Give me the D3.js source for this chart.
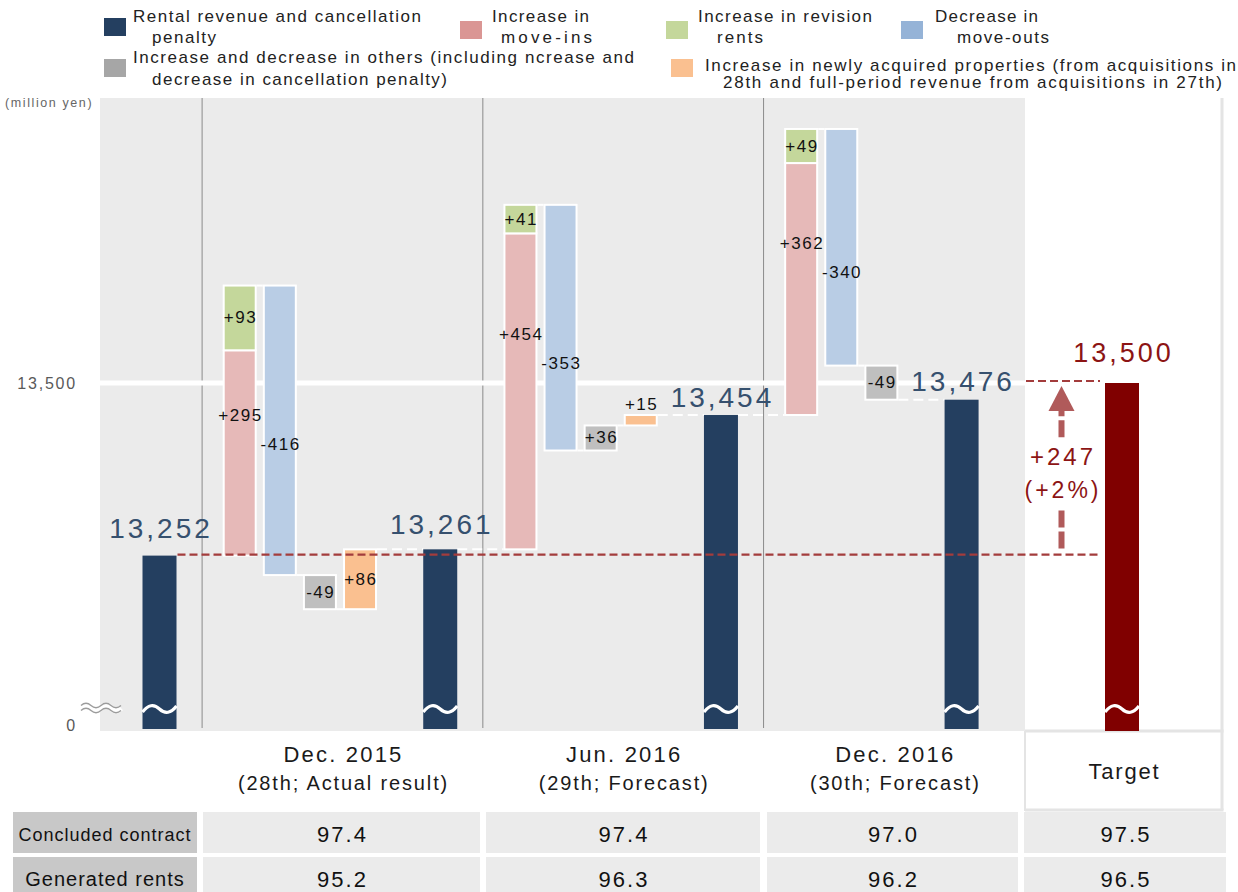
<!DOCTYPE html>
<html>
<head>
<meta charset="utf-8">
<script src="https://cdn.jsdelivr.net/npm/d3@7"></script>
<style>
  body { margin: 0; background: #fff; }
  svg { font-family: "Liberation Sans", Arial, sans-serif; display: block; }
</style>
</head>
<body>
<svg id="chart" width="1238" height="892"></svg>
<script>
// ---- data (million yen) ----
const periodNames = ["Dec. 2015", "Jun. 2016", "Dec. 2016"];
const periodNotes = ["(28th; Actual result)", "(29th; Forecast)", "(30th; Forecast)"];
const targetName = "Target";
const closingRevenue = [13252, 13261, 13454, 13476];   // rental revenue and cancellation penalty
const targetRevenue = 13500;
const moveIns = [295, 454, 362];
const revisionRents = [93, 41, 49];
const moveOuts = [-416, -353, -340];
const others = [-49, 36, -49];
const newProperties = [86, 15, null];
const targetGainText = ["+247", "(+2%)"];
const yTickValues = [13000, 13500];
const yTickLabels = ["0", "13,500"];
const unitLabel = "(million yen)";
const rowNames = ["Concluded contract", "Generated rents"];
const concludedContract = ["97.4", "97.4", "97.0", "97.5"];
const generatedRents = ["95.2", "96.3", "96.2", "96.5"];
const legendLabels = [
  ["Rental revenue and cancellation", "penalty"],
  ["Increase in", "move-ins"],
  ["Increase in revision", "rents"],
  ["Decrease in", "move-outs"],
  ["Increase and decrease in others (including ncrease and", "decrease in cancellation penalty)"],
  ["Increase in newly acquired properties (from acquisitions in", "28th and full-period revenue from acquisitions in 27th)"]
];

// ---- styling ----
const C = {
  total: "#243f60", moveIns: "#e6b9b8", revision: "#c4d79b", moveOuts: "#b9cde5",
  others: "#bfbfbf", newProps: "#fac090", target: "#800000",
  bg: "#ebebeb", sep: "#8a8a8a", red: "#a33c3c", redText: "#8c1414", arrow: "#b05a5a",
  totalText: "#36506e"
};
const legendColors = ["#243f60", "#da9694", "#c4d79b", "#95b3d7", "#a6a6a6", "#fac090"];
// legend placement: square x,y ; line starts, widths, baselines
const legendLayout = [
  { sx: 104, sy: 18, x1: 133, w1: 288, b1: 22, x2: 152, w2: 64,  b2: 43 },
  { sx: 460, sy: 21, x1: 492, w1: 97,  b1: 22, x2: 501, w2: 91,  b2: 43 },
  { sx: 666, sy: 21, x1: 698, w1: 174, b1: 22, x2: 717, w2: 46,  b2: 43 },
  { sx: 901, sy: 21, x1: 935, w1: 103, b1: 22, x2: 957, w2: 92,  b2: 43 },
  { sx: 104, sy: 59, x1: 133, w1: 501, b1: 63, x2: 152, w2: 295, b2: 85 },
  { sx: 671, sy: 59, x1: 705, w1: 531, b1: 71, x2: 723, w2: 499, b2: 88 }
];

const svg = d3.select("#chart");
const plot = { left: 100, top: 98, right: 1025, panelRight: 1222, bottom: 731 };

// ---- scales ----
const y = d3.scaleLinear().domain([13000, 13500]).range([731, 383]);
const x = d3.scaleLinear().domain([0, 24]).range([159.5, 1122]);   // column slots
const barW = 34;

// ---- build waterfall columns ----
const columns = [];   // {slot, from, to, kind, value}
let slot = 0;
periodNames.forEach((_, p) => {
  columns.push({ slot, from: closingRevenue[p], to: closingRevenue[p], kind: "total", value: closingRevenue[p] });
  slot += 2;
  let level = closingRevenue[p];
  const pinkFrom = level;
  level += moveIns[p];
  columns.push({ slot, from: pinkFrom, to: level, kind: "moveIns", value: moveIns[p] });
  const greenFrom = level;
  level += revisionRents[p];
  columns.push({ slot, from: greenFrom, to: level, kind: "revision", value: revisionRents[p], stacked: true });
  slot += 1;
  columns.push({ slot, from: level, to: level + moveOuts[p], kind: "moveOuts", value: moveOuts[p] });
  level += moveOuts[p]; slot += 1;
  columns.push({ slot, from: level, to: level + others[p], kind: "others", value: others[p] });
  level += others[p]; slot += 1;
  if (newProperties[p] != null) {
    columns.push({ slot, from: level, to: level + newProperties[p], kind: "newProps", value: newProperties[p] });
    level += newProperties[p]; slot += 1;
  }
  slot += 1;
});
columns.push({ slot, from: closingRevenue[3], to: closingRevenue[3], kind: "total", value: closingRevenue[3] });
const targetSlot = slot + 4;
const sepSlots = [1, 8, 15];

// ---- background ----
svg.append("rect").attr("x", plot.left).attr("y", plot.top)
  .attr("width", plot.right - plot.left).attr("height", plot.bottom - plot.top).attr("fill", C.bg);

// period separators
svg.selectAll("line.sep").data(sepSlots).join("line")
  .attr("x1", d => x(d) + 2.5).attr("x2", d => x(d) + 2.5)
  .attr("y1", plot.top).attr("y2", plot.bottom - 3)
  .attr("stroke", C.sep).attr("stroke-width", 1);

// 13,500 gridline
svg.append("line").attr("x1", plot.left).attr("x2", plot.right)
  .attr("y1", y(13500)).attr("y2", y(13500)).attr("stroke", "#fff").attr("stroke-width", 5);

// target panel frame
svg.append("line").attr("x1", plot.panelRight).attr("x2", plot.panelRight)
  .attr("y1", plot.top).attr("y2", 810).attr("stroke", "#e4e4e4").attr("stroke-width", 3);
svg.append("line").attr("x1", plot.right).attr("x2", plot.panelRight + 1.5)
  .attr("y1", plot.bottom).attr("y2", plot.bottom).attr("stroke", "#e4e4e4").attr("stroke-width", 3);
svg.append("line").attr("x1", plot.right).attr("x2", plot.panelRight + 1.5)
  .attr("y1", 810).attr("y2", 810).attr("stroke", "#e4e4e4").attr("stroke-width", 3);
svg.append("line").attr("x1", plot.right).attr("x2", plot.right)
  .attr("y1", plot.bottom).attr("y2", 811).attr("stroke", "#e4e4e4").attr("stroke-width", 2);

// ---- y axis ----
const yAxis = d3.axisLeft(y).tickValues(yTickValues)
  .tickFormat((d, i) => yTickLabels[i]).tickSize(0).tickPadding(0);
const axisG = svg.append("g").attr("transform", "translate(77,0)").call(yAxis);
axisG.select(".domain").remove();
axisG.selectAll("text").attr("font-size", 16).attr("fill", "#595959")
  .attr("letter-spacing", 1.8).attr("font-family", "Liberation Sans, Arial, sans-serif");
axisG.selectAll(".tick").filter(d => d === 13000).select("text").attr("dy", "-0.05em");

svg.append("text").attr("x", 5).attr("y", 107).attr("font-size", 12.5).attr("fill", "#666")
  .attr("letter-spacing", 1.6).text(unitLabel);

// axis break symbol
const breakWave = (x0, yc) => `M${x0},${yc} q5,-4.5 10,0 t10,0 t10,0 t10,0`;
svg.append("path").attr("d", breakWave(81, 708)).attr("fill", "none").attr("stroke", "#fff").attr("stroke-width", 6);
[-2.6, 2.6].forEach(o => {
  svg.append("path").attr("d", breakWave(81, 708 + o)).attr("fill", "none")
    .attr("stroke", "#9c9c9c").attr("stroke-width", 1.4);
});

// ---- white step connectors ----
const steps = [];
{
  // one entry per slot, with entry and exit levels
  const bySlot = d3.group(columns, c => c.slot);
  const slots = Array.from(bySlot.keys()).sort((a, b) => a - b);
  const exits = slots.map(s => {
    const cs = bySlot.get(s);
    return { slot: s, enter: cs[0].from, exit: cs[cs.length - 1].to };
  });
  for (let i = 2; i < exits.length; i++) {   // the first step sits on the dashed reference line
    steps.push({ x1: x(exits[i - 1].slot) + barW / 2, x2: x(exits[i].slot) - barW / 2, level: exits[i - 1].exit });
  }
}
svg.selectAll("line.step").data(steps).join("line")
  .attr("x1", d => d.x1).attr("x2", d => d.x2)
  .attr("y1", d => y(d.level)).attr("y2", d => y(d.level))
  .attr("stroke", "#fff").attr("stroke-width", 2).attr("stroke-dasharray", "10,5");

// ---- bars ----
const totals = columns.filter(c => c.kind === "total");
svg.selectAll("rect.total").data(totals).join("rect")
  .attr("x", d => x(d.slot) - barW / 2).attr("width", barW)
  .attr("y", d => y(d.value)).attr("height", d => y(13000) - 2 - y(d.value))
  .attr("fill", C.total);

const deltas = columns.filter(c => c.kind !== "total");
svg.selectAll("rect.delta").data(deltas).join("rect")
  .attr("x", d => x(d.slot) - (barW - 2) / 2).attr("width", barW - 2)
  .attr("y", d => y(Math.max(d.from, d.to))).attr("height", d => Math.abs(y(d.from) - y(d.to)))
  .attr("fill", d => C[d.kind]).attr("stroke", "#fff").attr("stroke-width", 2);

// target bar
svg.append("rect").attr("x", x(targetSlot) - barW / 2).attr("width", barW)
  .attr("y", y(targetRevenue)).attr("height", y(13000) - y(targetRevenue)).attr("fill", C.target);

// break waves on full-height bars
const barWave = (cx, yc) => {
  const x0 = cx - barW / 2, w = barW;
  return `M${x0},${yc + 3} Q${x0 + w * 0.25},${yc - 8} ${x0 + w * 0.5},${yc} T${x0 + w},${yc - 3}`;
};
[...totals.map(d => x(d.slot)), x(targetSlot)].forEach(cx => {
  svg.append("path").attr("d", barWave(cx, 709)).attr("fill", "none")
    .attr("stroke", "#fff").attr("stroke-width", 3.2);
});

// ---- reference lines and gain arrow ----
const arrowX = 1061.5;
svg.append("line").attr("x1", x(0) + barW / 2 + 1).attr("x2", 1100)
  .attr("y1", y(closingRevenue[0]) - 1).attr("y2", y(closingRevenue[0]) - 1)
  .attr("stroke", C.red).attr("stroke-width", 2.2).attr("stroke-dasharray", "8,4");
svg.append("line").attr("x1", plot.right + 1).attr("x2", 1100)
  .attr("y1", y(targetRevenue) - 2).attr("y2", y(targetRevenue) - 2)
  .attr("stroke", C.red).attr("stroke-width", 2.2).attr("stroke-dasharray", "8,4");

const mid = (y(closingRevenue[0]) + y(targetRevenue)) / 2;
svg.append("line").attr("x1", arrowX).attr("x2", arrowX)
  .attr("y1", y(closingRevenue[0]) - 7).attr("y2", mid + 38)
  .attr("stroke", C.arrow).attr("stroke-width", 6).attr("stroke-dasharray", "17,4");
svg.append("line").attr("x1", arrowX).attr("x2", arrowX)
  .attr("y1", mid - 32).attr("y2", y(targetRevenue) + 26)
  .attr("stroke", C.arrow).attr("stroke-width", 6).attr("stroke-dasharray", "17,4");
svg.append("path")
  .attr("d", `M${arrowX},${y(targetRevenue) + 3} L${arrowX + 13},${y(targetRevenue) + 28} L${arrowX - 13},${y(targetRevenue) + 28} Z`)
  .attr("fill", C.arrow);
svg.append("text").attr("x", arrowX + 1.5).attr("y", mid - 4).attr("text-anchor", "middle")
  .attr("font-size", 24).attr("letter-spacing", 3).attr("fill", C.redText).text(targetGainText[0]);
svg.append("text").attr("x", arrowX + 1.5).attr("y", mid + 29).attr("text-anchor", "middle")
  .attr("font-size", 23).attr("letter-spacing", 3).attr("fill", C.redText).text(targetGainText[1]);

// ---- value labels ----
const fmt = d3.format(",");
const totalLabelGap = [18, 15, 8, 9];
svg.selectAll("text.total").data(totals).join("text")
  .attr("x", d => x(d.slot) + 1.5).attr("y", (d, i) => y(d.value) - totalLabelGap[i])
  .attr("text-anchor", "middle").attr("font-size", 28).attr("letter-spacing", 3)
  .attr("fill", C.totalText).text(d => fmt(d.value));
svg.append("text").attr("x", x(targetSlot) + 1.5).attr("y", y(targetRevenue) - 21)
  .attr("text-anchor", "middle").attr("font-size", 27).attr("letter-spacing", 3)
  .attr("fill", C.redText).text(fmt(targetRevenue));

const signed = v => (v > 0 ? "+" : "") + v;
const labelY = d => {
  const top = y(Math.max(d.from, d.to)), bot = y(Math.min(d.from, d.to)), h = bot - top;
  if (d.kind === "moveIns") return top + 0.32 * h;
  if (d.kind === "moveOuts") {
    const pink = columns.find(c => c.kind === "moveIns" && c.slot === d.slot - 1);
    const pTop = y(Math.max(pink.from, pink.to)), pH = Math.abs(y(pink.from) - y(pink.to));
    return pTop + 0.32 * pH + 29;
  }
  if (h < 18) return top - 11;
  return (top + bot) / 2;
};
svg.selectAll("text.delta").data(deltas).join("text")
  .attr("x", d => x(d.slot) + 0.8).attr("y", d => labelY(d))
  .attr("dominant-baseline", "central").attr("text-anchor", "middle")
  .attr("font-size", 17).attr("letter-spacing", 1.5).attr("fill", "#111")
  .text(d => signed(d.value));

// ---- category labels ----
const sepX = sepSlots.map(s => x(s) + 2.5).concat([plot.right]);
const periodCenters = periodNames.map((_, i) => (sepX[i] + sepX[i + 1]) / 2);
const targetCenter = (plot.right + plot.panelRight) / 2;
periodNames.forEach((name, i) => {
  svg.append("text").attr("x", periodCenters[i] + 1).attr("y", 762).attr("text-anchor", "middle")
    .attr("font-size", 22).attr("letter-spacing", 2.2).attr("fill", "#1a1a1a").text(name);
  svg.append("text").attr("x", periodCenters[i] + 1).attr("y", 790).attr("text-anchor", "middle")
    .attr("font-size", 20).attr("letter-spacing", 1.85).attr("fill", "#1a1a1a").text(periodNotes[i]);
});
svg.append("text").attr("x", targetCenter + 1).attr("y", 779).attr("text-anchor", "middle")
  .attr("font-size", 22).attr("letter-spacing", 1.8).attr("fill", "#1a1a1a").text(targetName);

// ---- table ----
const cellEdges = [[203, 480], [486, 760], [767, 1018], [1024, 1226]];
const rows = [
  { name: rowNames[0], values: concludedContract, y0: 812, y1: 853, base: 842, labelSize: 18 },
  { name: rowNames[1], values: generatedRents, y0: 857, y1: 900, base: 887, labelSize: 20 }
];
rows.forEach(r => {
  svg.append("rect").attr("x", 13).attr("y", r.y0).attr("width", 184).attr("height", r.y1 - r.y0).attr("fill", "#c8c8c8");
  svg.append("text").attr("x", 105).attr("y", r.base - 1).attr("text-anchor", "middle")
    .attr("font-size", r.labelSize).attr("letter-spacing", 1).attr("fill", "#111").text(r.name);
  r.values.forEach((v, i) => {
    const [a, b] = cellEdges[i];
    svg.append("rect").attr("x", a).attr("y", r.y0).attr("width", b - a).attr("height", r.y1 - r.y0).attr("fill", "#ebebeb");
    svg.append("text").attr("x", (a + b) / 2 + 1).attr("y", r.base).attr("text-anchor", "middle")
      .attr("font-size", 22).attr("letter-spacing", 2).attr("fill", "#111").text(v);
  });
});

// ---- legend ----
legendLabels.forEach((lines, i) => {
  const L = legendLayout[i];
  svg.append("rect").attr("x", L.sx).attr("y", L.sy).attr("width", 22).attr("height", 18).attr("fill", legendColors[i]);
  svg.append("text").attr("x", L.x1).attr("y", L.b1).attr("font-size", 17).attr("fill", "#222")
    .attr("textLength", L.w1).attr("lengthAdjust", "spacing").text(lines[0]);
  svg.append("text").attr("x", L.x2).attr("y", L.b2).attr("font-size", 17).attr("fill", "#222")
    .attr("textLength", L.w2).attr("lengthAdjust", "spacing").text(lines[1]);
});
</script>
</body>
</html>
